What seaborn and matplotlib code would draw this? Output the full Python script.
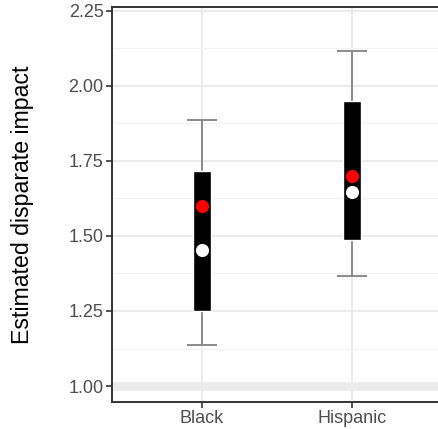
import matplotlib
matplotlib.use("Agg")
import matplotlib.pyplot as plt
import pandas as pd
import seaborn as sns
from matplotlib.ticker import MultipleLocator


OUTPUT_FILENAME = "out.png"

# values
groups = ["Black", "Hispanic"]
box_low = [1.25, 1.485]
box_high = [1.715, 1.948]
whisker_low = [1.138, 1.365]
whisker_high = [1.885, 2.115]
red_est = [1.600, 1.698]
white_est = [1.452, 1.645]
y_ticks = [1.00, 1.25, 1.50, 1.75, 2.00, 2.25]


def plot_results(output_path):
    sns.set_theme(style="whitegrid")
    plt.rcParams["font.family"] = ["Liberation Sans", "DejaVu Sans"]

    fig = plt.figure(figsize=(4.38, 4.29), dpi=100)
    ax = fig.add_axes([112 / 438, 27 / 429, 330 / 438, 395 / 429])
    ax.set_facecolor("white")

    df = pd.DataFrame({
        "group": groups,
        "low": box_low,
        "high": box_high,
        "wlow": whisker_low,
        "whigh": whisker_high,
        "red": red_est,
        "white": white_est,
    })

    # grey reference band at 1
    ax.axhline(1.0, color="#EBEBEB", lw=6.2, zorder=1)

    # whiskers
    ax.errorbar(df["group"], (df["wlow"] + df["whigh"]) / 2,
                yerr=(df["whigh"] - df["wlow"]) / 2,
                fmt="none", ecolor="#8A8A8A", elinewidth=1.4,
                capsize=10.8, capthick=1.4, zorder=2)

    # boxes
    ax.bar(df["group"], df["high"] - df["low"], bottom=df["low"],
           width=0.12, color="black", zorder=3)

    sns.scatterplot(data=df, x="group", y="red", color="#FF0000", s=90,
                    linewidth=0, ax=ax, zorder=4)
    sns.scatterplot(data=df, x="group", y="white", color="white", s=90,
                    linewidth=0, ax=ax, zorder=5)

    ax.set_xlim(-0.6, 1.6)
    ax.set_ylim(0.947, 2.262)
    ax.set_yticks(y_ticks)
    ax.set_yticklabels([f"{v:.2f}" for v in y_ticks])
    ax.yaxis.set_minor_locator(MultipleLocator(0.125))

    ax.grid(which="major", color="#EBEBEB", lw=1.5, zorder=0)
    ax.grid(which="minor", axis="y", color="#F2F2F2", lw=0.9, zorder=0)
    ax.set_axisbelow(True)

    for side in ["left", "bottom", "top", "right"]:
        ax.spines[side].set_color("#333333")
        ax.spines[side].set_linewidth(1.4)

    ax.tick_params(axis="both", which="major", length=4.2, width=1.2,
                   color="#333333", labelcolor="#4D4D4D", labelsize=13.0,
                   pad=1.8, left=True, bottom=True)
    ax.tick_params(axis="y", which="minor", length=0)

    ax.set_xlabel("")
    ax.set_ylabel("Estimated disparate impact", fontsize=16.7, color="black")
    ax.yaxis.set_label_coords(-0.236, 0.5)

    fig.savefig(output_path, dpi=100)


def main():
    plot_results(OUTPUT_FILENAME)


if __name__ == "__main__":
    main()
